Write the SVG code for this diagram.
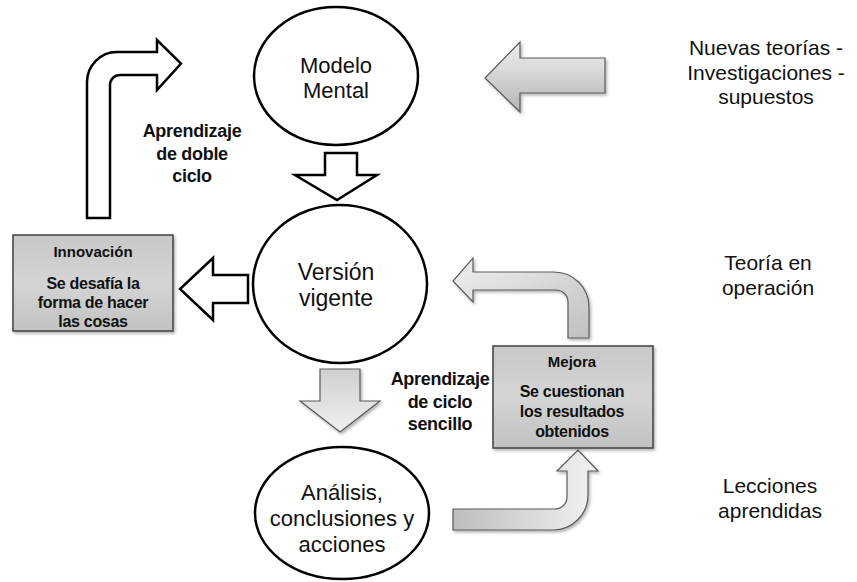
<svg xmlns="http://www.w3.org/2000/svg" width="857" height="582" viewBox="0 0 857 582">
  <defs>
    <linearGradient id="boxFill" x1="0" y1="0" x2="0" y2="1">
      <stop offset="0" stop-color="#c8c8c8"/>
      <stop offset="0.5" stop-color="#d4d4d4"/>
      <stop offset="1" stop-color="#c2c2c2"/>
    </linearGradient>
    <linearGradient id="vFill" x1="0" y1="0" x2="0" y2="1">
      <stop offset="0" stop-color="#ececec"/>
      <stop offset="0.35" stop-color="#dcdcdc"/>
      <stop offset="1" stop-color="#b4b4b4"/>
    </linearGradient>
    <linearGradient id="downFill" x1="0" y1="0" x2="0" y2="1">
      <stop offset="0" stop-color="#cfcfcf"/>
      <stop offset="1" stop-color="#f0f0f0"/>
    </linearGradient>
    <linearGradient id="hFill" x1="0" y1="0" x2="1" y2="0">
      <stop offset="0" stop-color="#bdbdbd"/>
      <stop offset="1" stop-color="#f2f2f2"/>
    </linearGradient>
    <linearGradient id="bentFill" x1="1" y1="1" x2="0" y2="0">
      <stop offset="0" stop-color="#c0c0c0"/>
      <stop offset="1" stop-color="#f0f0f0"/>
    </linearGradient>
    <filter id="shadow" x="-10%" y="-10%" width="130%" height="130%">
      <feDropShadow dx="1.5" dy="2" stdDeviation="1.5" flood-color="#000" flood-opacity="0.3"/>
    </filter>
  </defs>
  <style>
    .ell { fill: #fff; stroke: #000; stroke-width: 2.5; }
    .hollow { fill: #fff; stroke: #000; stroke-width: 2.5; stroke-linejoin: miter; }
    .grey { stroke: #5a5a5a; stroke-width: 1.2; filter: url(#shadow); }
    .box { fill: url(#boxFill); stroke: #404040; stroke-width: 1.5; filter: url(#shadow); }
    .node { font-family: "Liberation Sans", Arial, sans-serif; font-size: 22px; fill: #111; text-anchor: middle; }
    .big { font-size: 23px; }
    .side { font-family: "Liberation Sans", Arial, sans-serif; font-size: 21px; fill: #111; text-anchor: middle; }
    .lbl { font-family: "Liberation Sans", Arial, sans-serif; font-size: 18px; font-weight: bold; fill: #111; text-anchor: middle; letter-spacing: -0.3px; }
    .bt { font-family: "Liberation Sans", Arial, sans-serif; font-size: 15px; font-weight: bold; fill: #111; text-anchor: middle; }
    .bb { font-family: "Liberation Sans", Arial, sans-serif; font-size: 16px; font-weight: bold; fill: #111; text-anchor: middle; letter-spacing: -0.3px; }
  </style>
  <rect width="857" height="582" fill="#fff"/>

  <!-- connectors: block arrows -->
  <g id="connectors">
    <!-- double loop: bent hollow arrow up and to the right -->
    <path class="hollow" d="M87,218 L87,82 A30,30 0 0 1 117,52 L157,52 L157,40 L181,63.5 L157,90 L157,75 L120,75 A10,10 0 0 0 110,85 L110,218 Z"/>
    <!-- model to current version -->
    <path class="hollow" d="M325,153 L357,153 L357,175 L377,175 L337,200 L295,175 L325,175 Z"/>
    <!-- current version to innovation -->
    <path class="hollow" d="M248,275 L248,303 L213,303 L213,320 L180,289 L213,258 L213,275 Z"/>
    <!-- new theories into the model -->
    <path class="grey" fill="url(#vFill)" d="M605,58 L605,93 L520,93 L520,112 L485,78 L520,42 L520,58 Z"/>
    <!-- current version to analysis -->
    <path class="grey" fill="url(#downFill)" d="M320,369 L360,369 L360,401 L380,401 L340,432 L300,401 L320,401 Z"/>
    <!-- analysis up into improvement -->
    <path class="grey" fill="url(#hFill)" d="M453,509 L555,509 A12,12 0 0 0 567,497 L567,471 L557,471 L578,450 L598,471 L588,471 L588,495 A35,35 0 0 1 553,530 L453,530 Z"/>
    <!-- improvement back to current version -->
    <path class="grey" fill="url(#bentFill)" d="M568,338 L568,302 A12,12 0 0 0 556,290 L473,290 L473,302 L453,281 L473,258 L473,272 L554,272 A35,35 0 0 1 589,307 L589,338 Z"/>
  </g>

  <g id="modelo-mental">
    <ellipse class="ell" cx="336" cy="76" rx="82" ry="69"/>
    <text class="node" x="336" y="73">Modelo</text>
    <text class="node" x="336" y="98">Mental</text>
  </g>

  <g id="version-vigente">
    <ellipse class="ell" cx="340" cy="284" rx="87" ry="79"/>
    <text class="node big" x="336" y="280">Versión</text>
    <text class="node big" x="336" y="306">vigente</text>
  </g>

  <g id="analisis">
    <ellipse class="ell" cx="342" cy="513" rx="87" ry="66"/>
    <text class="node" x="342" y="500">Análisis,</text>
    <text class="node" x="342" y="526">conclusiones y</text>
    <text class="node" x="342" y="552">acciones</text>
  </g>

  <g id="innovacion">
    <rect class="box" x="13" y="235" width="160" height="96"/>
    <text class="bt" x="93" y="257">Innovación</text>
    <text class="bb" x="93" y="289">Se desafía la</text>
    <text class="bb" x="93" y="308">forma de hacer</text>
    <text class="bb" x="93" y="327">las cosas</text>
  </g>

  <g id="mejora">
    <rect class="box" x="493" y="346" width="160" height="102"/>
    <text class="bt" x="572" y="367">Mejora</text>
    <text class="bb" x="572" y="397">Se cuestionan</text>
    <text class="bb" x="572" y="417">los resultados</text>
    <text class="bb" x="572" y="437">obtenidos</text>
  </g>

  <g id="label-doble">
    <text class="lbl" x="192" y="137">Aprendizaje</text>
    <text class="lbl" x="192" y="160">de doble</text>
    <text class="lbl" x="192" y="182">ciclo</text>
  </g>

  <g id="label-sencillo">
    <text class="lbl" x="440" y="385">Aprendizaje</text>
    <text class="lbl" x="440" y="408">de ciclo</text>
    <text class="lbl" x="440" y="430">sencillo</text>
  </g>

  <g id="nuevas-teorias">
    <text class="side" x="766" y="55">Nuevas teorías -</text>
    <text class="side" x="766" y="80">Investigaciones -</text>
    <text class="side" x="766" y="104">supuestos</text>
  </g>

  <g id="teoria-operacion">
    <text class="side" x="768" y="270">Teoría en</text>
    <text class="side" x="768" y="295">operación</text>
  </g>

  <g id="lecciones">
    <text class="side" x="770" y="493">Lecciones</text>
    <text class="side" x="770" y="518">aprendidas</text>
  </g>
</svg>
